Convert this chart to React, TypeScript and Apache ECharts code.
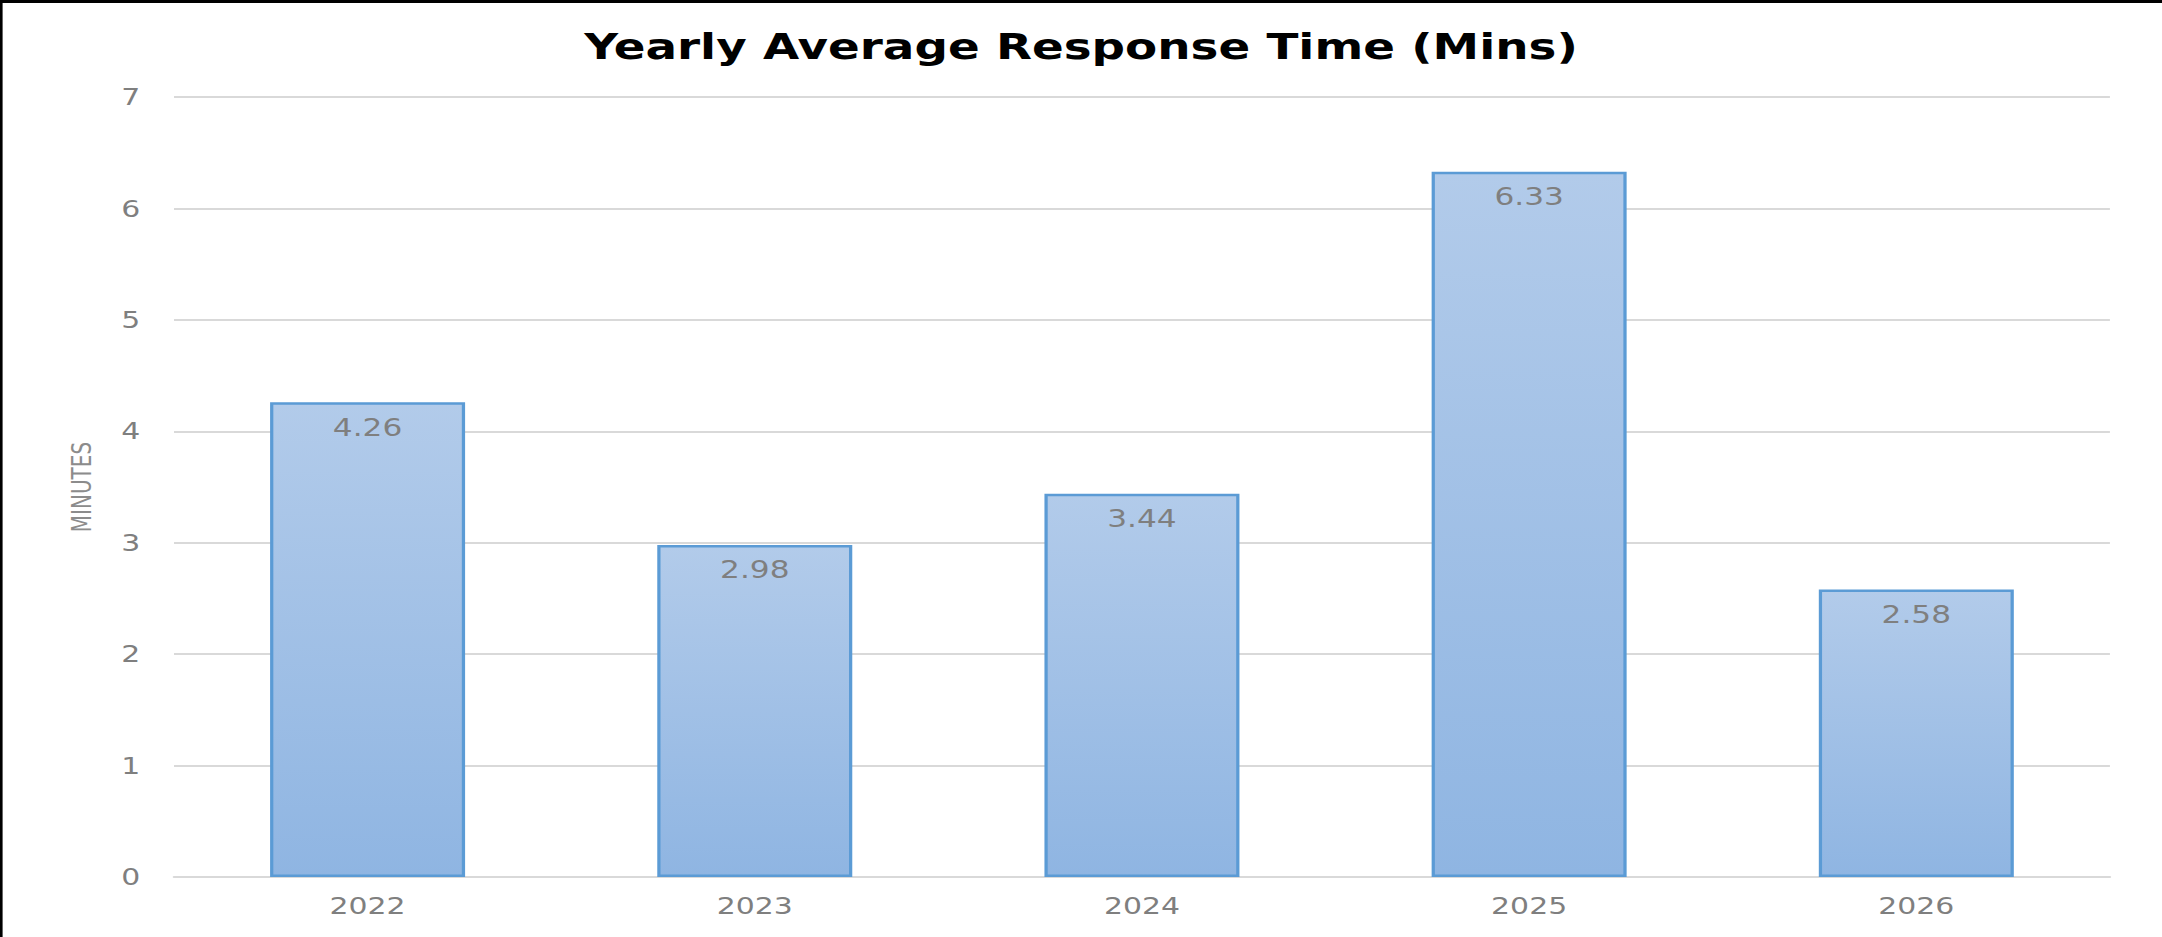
import React, { useEffect, useRef } from "react";
import * as echarts from "echarts";

const categories = ["2022", "2023", "2024", "2025", "2026"];
const responseMinutes = [4.26, 2.98, 3.44, 6.33, 2.58];
const yTicks = { min: 0, max: 7, interval: 1 };
const chartTitle = "Yearly Average Response Time (Mins)";
const yAxisName = "MINUTES";

// The reference picture is stretched horizontally; reproduce that stretch.
const STRETCH = 1.3;
const PAGE_W = 2162;
const PAGE_H = 937;

export default function App() {
  const ref = useRef<HTMLDivElement>(null);

  useEffect(() => {
    document.body.style.margin = "0";
    if (!ref.current) return;
    const chart = echarts.init(ref.current, null, { renderer: "svg" });
    const font = "DejaVu Sans";
    const s = STRETCH;
    chart.setOption({
      animation: false,
      backgroundColor: "#ffffff",
      title: {
        text: chartTitle,
        left: "center",
        top: 23,
        textStyle: {
          fontFamily: font,
          fontWeight: "bold",
          fontSize: 36,
          color: "#000000",
        },
      },
      graphic: [
        { type: "rect", shape: { x: 0, y: 0, width: PAGE_W / s, height: 3 }, style: { fill: "#000000" }, z: 100 },
        { type: "rect", shape: { x: 0, y: 0, width: 2, height: PAGE_H }, style: { fill: "#000000" }, z: 100 },
      ],
      grid: { left: 174 / s, right: 52 / s, top: 97, bottom: 60, containLabel: false },
      xAxis: {
        type: "category",
        data: categories,
        axisLine: { show: true, lineStyle: { color: "#d9d9d9", width: 2 } },
        axisTick: { show: false },
        axisLabel: { fontFamily: font, fontSize: 23, color: "#7f7f7f", margin: 17 },
      },
      yAxis: {
        type: "value",
        min: yTicks.min,
        max: yTicks.max,
        interval: yTicks.interval,
        name: yAxisName,
        nameLocation: "middle",
        nameGap: 61,
        nameRotate: 90,
        nameTextStyle: { fontFamily: font, fontSize: 20, color: "#8c8c8c" },
        axisLine: { show: false },
        axisTick: { show: false },
        axisLabel: { fontFamily: font, fontSize: 23, color: "#7f7f7f", margin: 26 },
        splitLine: { show: true, lineStyle: { color: "#d9d9d9", width: 2 } },
      },
      series: [
        {
          type: "bar",
          data: responseMinutes,
          barWidth: 195 / s,
          itemStyle: {
            color: new echarts.graphic.LinearGradient(0, 0, 0, 1, [
              { offset: 0, color: "#b2cbea" },
              { offset: 1, color: "#8fb5e2" },
            ]),
            borderColor: "#5b9bd5",
            borderWidth: 2.5,
          },
          label: {
            show: true,
            position: "insideTop",
            distance: 13,
            fontFamily: font,
            fontSize: 24,
            color: "#7f7f7f",
            formatter: (p: any) => p.value.toFixed(2),
          },
        },
      ],
    });
    return () => chart.dispose();
  }, []);

  return (
    <div style={{ width: PAGE_W, height: PAGE_H, overflow: "hidden", position: "relative" }}>
      <div
        ref={ref}
        style={{
          width: PAGE_W / STRETCH,
          height: PAGE_H,
          transform: `scaleX(${STRETCH})`,
          transformOrigin: "0 0",
        }}
      />
    </div>
  );
}
